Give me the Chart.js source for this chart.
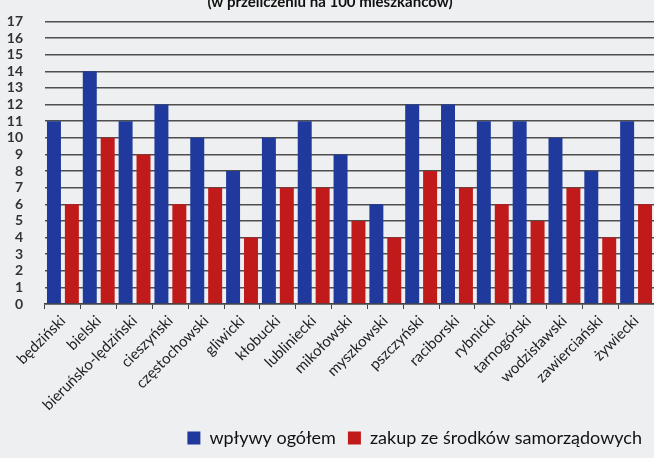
<!DOCTYPE html>
<html>
<head>
<meta charset="utf-8">
<script src="https://cdn.jsdelivr.net/npm/chart.js@4/dist/chart.umd.min.js"></script>
<style>
  html, body { margin: 0; padding: 0; background: #eeeff1; overflow: hidden; }
  #wrap { position: relative; top: -9px; width: 654px; height: 467px; }
</style>
</head>
<body>
<div id="wrap"><canvas id="chart" width="654" height="467"></canvas></div>
<script>
const powiaty = ['będziński', 'bielski', 'bieruńsko-lędziński', 'cieszyński', 'częstochowski', 'gliwicki',
    'kłobucki', 'lubliniecki', 'mikołowski', 'myszkowski', 'pszczyński', 'raciborski', 'rybnicki',
    'tarnogórski', 'wodzisławski', 'zawierciański', 'żywiecki'];
const wplywyOgolem = [11, 14, 11, 12, 10, 8, 10, 11, 9, 6, 12, 12, 11, 11, 10, 8, 11];
const zakupSamorzad = [6, 10, 9, 6, 7, 4, 7, 7, 5, 4, 8, 7, 6, 5, 7, 4, 6];
const tytul = '(w przeliczeniu na 100 mieszkańców)';

const ctx = document.getElementById('chart').getContext('2d');
new Chart(ctx, {
    type: 'bar',
    data: {
        labels: powiaty,
        datasets: [{
            label: 'wpływy ogółem',
            data: wplywyOgolem,
            backgroundColor: '#1f3a9c',
            barPercentage: 0.78,
            categoryPercentage: 1
        }, {
            label: 'zakup ze środków samorządowych',
            data: zakupSamorzad,
            backgroundColor: '#c01a1a',
            barPercentage: 0.78,
            categoryPercentage: 1
        }]
    },
    options: {
        responsive: false,
        animation: false,
        layout: { padding: { left: 6, right: 0, top: 0, bottom: 1 } },
        plugins: {
            title: {
                display: true,
                text: tytul,
                color: '#111',
                font: { family: 'Lato', size: 15, weight: 'bold' },
                padding: { top: 2, bottom: 10 }
            },
            legend: {
                position: 'bottom',
                align: 'end',
                labels: {
                    color: '#111',
                    boxWidth: 13,
                    boxHeight: 13,
                    padding: 12,
                    font: { family: 'Lato', size: 18 }
                }
            },
            tooltip: { enabled: false }
        },
        scales: {
            x: {
                grid: { drawOnChartArea: false, color: '#444', tickLength: 5 },
                border: { color: '#444', width: 1.5 },
                ticks: {
                    color: '#222',
                    autoSkip: false,
                    maxRotation: 45,
                    minRotation: 45,
                    font: { family: 'Lato', size: 15 }
                }
            },
            y: {
                min: 0,
                max: 17,
                // keep the axis narrow so the plot starts close to the numbers
                afterFit: function(scale) { scale.width = 39; },
                ticks: {
                    stepSize: 1,
                    autoSkip: false,
                    color: '#333',
                    padding: 22,
                    font: { family: 'Lato', size: 14, weight: 'bold' }
                },
                grid: { color: 'rgba(60,60,60,0.9)', lineWidth: 1.5, drawTicks: false },
                border: { display: false }
            }
        }
    }
});
</script>
</body>
</html>
